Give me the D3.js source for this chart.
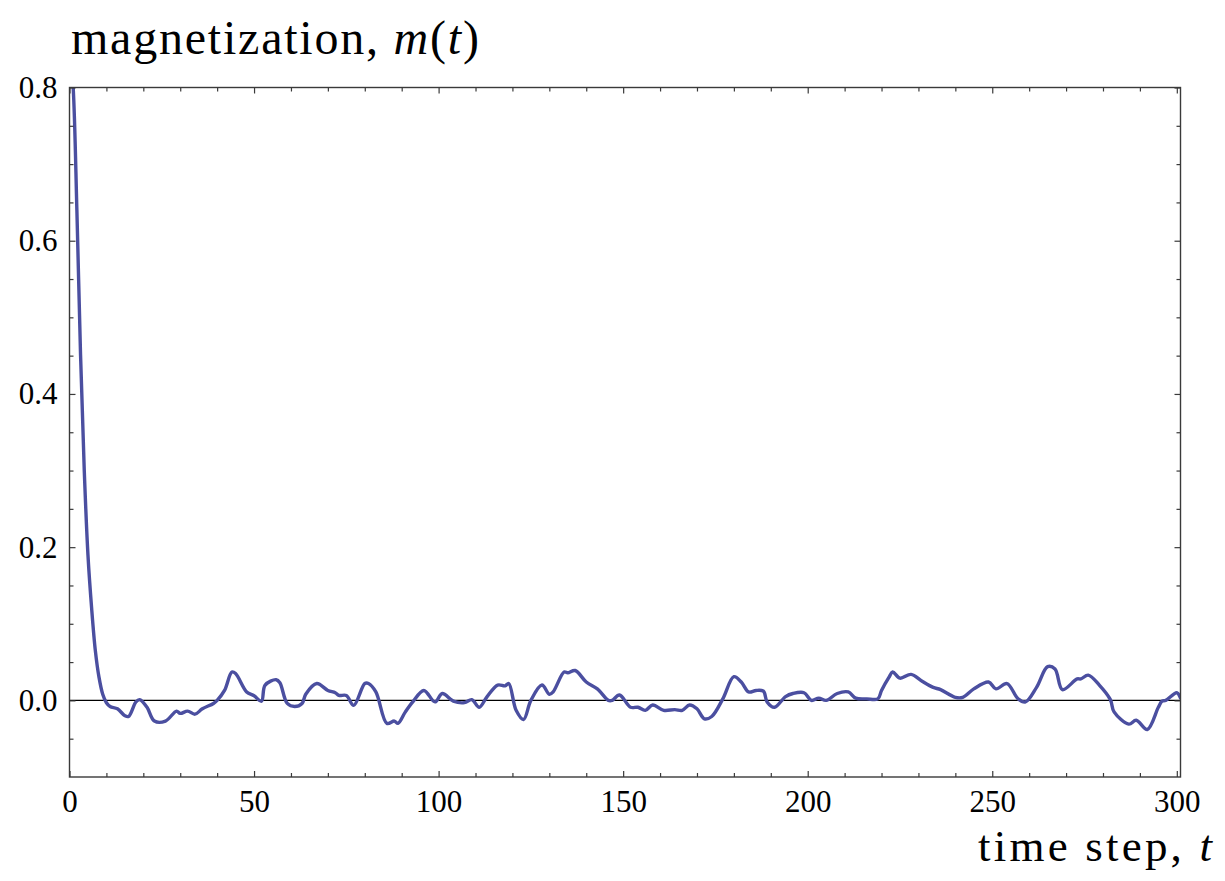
<!DOCTYPE html>
<html>
<head>
<meta charset="utf-8">
<script src="https://cdn.jsdelivr.net/npm/d3@7"></script>
<style>
  html, body { margin: 0; padding: 0; background: #ffffff; }
  svg { display: block; }
  text { font-family: "Liberation Serif", "Times New Roman", serif; fill: #000; }
</style>
</head>
<body>
<svg id="chart" width="1225" height="881"></svg>
<script>
// ---- data ----
const timeSteps = [0,1,2,3,4,5,6,7,8,9,10,11,13,15,16,18,19,21,23,26,29,30,32,34,36,39,40,42,44,45,48,50,52,53,56,57,59,61,63,64,67,70,72,73,75,77,80,81,83,86,88,89,91,93,96,99,101,104,107,109,111,113,116,118,119,121,123,125,128,130,131,134,135,137,140,143,146,147,149,152,154,156,158,161,164,166,168,170,172,174,177,180,182,184,186,188,189,191,194,196,199,201,203,205,208,211,213,216,219,220,222,223,225,228,231,234,236,240,242,245,249,251,254,257,259,262,265,267,269,273,274,276,279,282,283,287,289,292,295,296,297,300,301];
const magnetization = [0.86,0.80,0.64,0.45,0.30,0.19,0.12,0.065,0.03,0.008,-0.003,-0.008,-0.011,-0.020,-0.021,-0.002,0.001,-0.009,-0.027,-0.027,-0.014,-0.017,-0.014,-0.018,-0.011,-0.004,0.0,0.013,0.037,0.035,0.011,0.006,-0.001,0.020,0.027,0.023,-0.004,-0.008,-0.004,0.008,0.022,0.013,0.010,0.0065,0.0065,-0.0065,0.022,0.022,0.011,-0.030,-0.027,-0.030,-0.015,-0.002,0.013,-0.002,0.009,-0.001,-0.003,0.001,-0.009,0.004,0.020,0.019,0.022,-0.013,-0.025,0.0,0.020,0.008,0.011,0.037,0.036,0.039,0.024,0.015,0.0,0.0,0.007,-0.009,-0.009,-0.013,-0.006,-0.013,-0.012,-0.013,-0.006,-0.011,-0.024,-0.021,0.002,0.031,0.024,0.011,0.013,0.012,-0.002,-0.009,0.005,0.009,0.010,0.0,0.003,0.0,0.009,0.011,0.003,0.002,0.002,0.013,0.030,0.037,0.029,0.034,0.025,0.017,0.014,0.004,0.004,0.015,0.024,0.015,0.022,0.002,-0.002,0.017,0.044,0.041,0.014,0.028,0.028,0.033,0.020,0.001,-0.015,-0.031,-0.026,-0.038,-0.009,-0.001,0.0,0.010,0.003];

const xMajorTicks = [0, 50, 100, 150, 200, 250, 300];
const xMinorTicks = [10,20,30,40,60,70,80,90,110,120,130,140,160,170,180,190,210,220,230,240,260,270,280,290];
const yMajorTicks = [0.0, 0.2, 0.4, 0.6, 0.8];
const yMinorTicks = [-0.05, 0.05, 0.1, 0.15, 0.25, 0.3, 0.35, 0.45, 0.5, 0.55, 0.65, 0.7, 0.75];

const yLabelText = "magnetization, ";
const xLabelText = "time step, ";

// ---- layout ----
const svg = d3.select("#chart");
const pLeft = 69.5, pRight = 1180.5, pTop = 87.5, pBottom = 777;

const x = d3.scaleLinear().domain([0, 301]).range([pLeft, pRight]);
const y = d3.scaleLinear().domain([-0.1, 0.8]).range([pBottom, pTop]);

// clip
svg.append("defs").append("clipPath").attr("id", "plotclip")
  .append("rect").attr("x", pLeft).attr("y", pTop).attr("width", pRight - pLeft).attr("height", pBottom - pTop);

// zero line
svg.append("line")
  .attr("x1", pLeft).attr("x2", pRight)
  .attr("y1", y(0)).attr("y2", y(0))
  .attr("stroke", "#000").attr("stroke-width", 1.2);

// data line
const pts = timeSteps.map((t, i) => [t, magnetization[i]]);
const line = d3.line().x(d => x(d[0])).y(d => y(d[1])).curve(d3.curveCatmullRom.alpha(0.5));
svg.append("path")
  .datum(pts)
  .attr("clip-path", "url(#plotclip)")
  .attr("d", line)
  .attr("fill", "none")
  .attr("stroke", "#4b4fa0")
  .attr("stroke-width", 3.4)
  .attr("stroke-linejoin", "round")
  .attr("stroke-linecap", "round");

// axes (ticks inward, on all four sides)
const frameColor = "#3a3a3a";
function styleAxis(g) {
  g.select(".domain").remove();
  g.selectAll(".tick line").attr("stroke", frameColor).attr("stroke-width", 1.2);
}

// bottom major with labels
const gB = svg.append("g").attr("transform", `translate(0,${pBottom})`)
  .call(d3.axisBottom(x).tickValues(xMajorTicks).tickSizeInner(-6).tickSizeOuter(0).tickPadding(13).tickFormat(d3.format("d")));
styleAxis(gB);
gB.selectAll(".tick text").attr("font-family", "Liberation Serif").attr("font-size", 31).attr("fill", "#000");
const gBm = svg.append("g").attr("transform", `translate(0,${pBottom})`)
  .call(d3.axisBottom(x).tickValues(xMinorTicks).tickSizeInner(-4).tickSizeOuter(0).tickFormat(""));
styleAxis(gBm);

// top
const gT = svg.append("g").attr("transform", `translate(0,${pTop})`)
  .call(d3.axisTop(x).tickValues(xMajorTicks).tickSizeInner(-6).tickSizeOuter(0).tickFormat(""));
styleAxis(gT);
const gTm = svg.append("g").attr("transform", `translate(0,${pTop})`)
  .call(d3.axisTop(x).tickValues(xMinorTicks).tickSizeInner(-4).tickSizeOuter(0).tickFormat(""));
styleAxis(gTm);

// left major with labels
const gL = svg.append("g").attr("transform", `translate(${pLeft},0)`)
  .call(d3.axisLeft(y).tickValues(yMajorTicks).tickSizeInner(-6).tickSizeOuter(0).tickPadding(12).tickFormat(d3.format(".1f")));
styleAxis(gL);
gL.selectAll(".tick text").attr("font-family", "Liberation Serif").attr("font-size", 31).attr("fill", "#000");
const gLm = svg.append("g").attr("transform", `translate(${pLeft},0)`)
  .call(d3.axisLeft(y).tickValues(yMinorTicks).tickSizeInner(-4).tickSizeOuter(0).tickFormat(""));
styleAxis(gLm);

// right
const gR = svg.append("g").attr("transform", `translate(${pRight},0)`)
  .call(d3.axisRight(y).tickValues(yMajorTicks).tickSizeInner(-6).tickSizeOuter(0).tickFormat(""));
styleAxis(gR);
const gRm = svg.append("g").attr("transform", `translate(${pRight},0)`)
  .call(d3.axisRight(y).tickValues(yMinorTicks).tickSizeInner(-4).tickSizeOuter(0).tickFormat(""));
styleAxis(gRm);

// frame
svg.append("rect")
  .attr("x", pLeft).attr("y", pTop)
  .attr("width", pRight - pLeft).attr("height", pBottom - pTop)
  .attr("fill", "none").attr("stroke", frameColor).attr("stroke-width", 1.4);

// fit a label's width by adjusting letter spacing
function fitWidth(sel, target) {
  const node = sel.node();
  const len = node.getComputedTextLength();
  const n = node.textContent.length;
  if (n > 1) sel.attr("letter-spacing", ((target - len) / (n - 1)).toFixed(2));
}

// axis labels
const yLab = svg.append("text")
  .attr("x", 71).attr("y", 54)
  .attr("font-size", 48);
yLab.append("tspan").text(yLabelText);
yLab.append("tspan").attr("font-style", "italic").text("m");
yLab.append("tspan").text("(");
yLab.append("tspan").attr("font-style", "italic").text("t");
yLab.append("tspan").text(")");
fitWidth(yLab, 408);

const xLab = svg.append("text")
  .attr("x", 978).attr("y", 861)
  .attr("font-size", 45);
xLab.append("tspan").text(xLabelText);
xLab.append("tspan").attr("font-style", "italic").text("t");
fitWidth(xLab, 234);
</script>
</body>
</html>
